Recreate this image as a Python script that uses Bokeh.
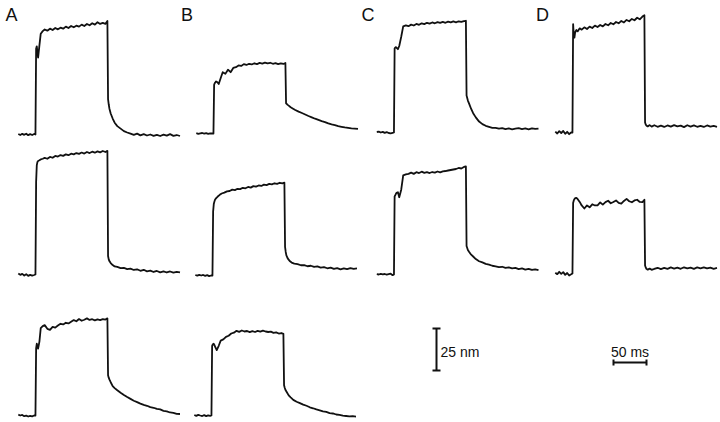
from bokeh.plotting import figure
from bokeh.models import Range1d, Label
from bokeh.embed import file_html
from bokeh.resources import INLINE

# ---------------- data (time in ms, displacement in nm above each baseline) -------------
TIME_MS = [0, 3, 6, 9, 12, 15, 18, 21, 24,
           26, 27, 28, 29, 30, 32, 34, 37, 40,
           44, 48, 52, 56, 60, 64, 68, 72, 76, 80, 84, 88, 92, 96, 100, 104, 108, 112,
           116, 120, 124, 128, 132,
           135, 136, 137, 138, 140, 143, 146,
           150, 155, 160, 165, 170, 175, 180, 185, 190, 195, 200, 205, 210, 215, 220,
           225, 230, 235, 240, 245]

A1 = [0.3, -0.3, 0.4, -0.2, 0.5, -0.4, 0.2, -0.3, 0.3,
      0.0, 51, 52.5, 49, 45.8, 53, 60, 61.5, 62.5, 61.8, 63, 62.2, 63.4, 62.6, 63.6, 63,
      64.2, 63.4, 64.6, 63.8, 64.8, 64.2, 65.4, 64.6, 65.8, 65, 66.2, 65.4, 66.8, 65.8,
      66.4, 65.8, 67.6,
      21, 18, 15.5, 12.5, 9.5, 7, 5, 3.5, 2, 1.2, 0.5, -0.2, 0.5, -0.5, 0.2, -0.6, 0,
      -0.8, -0.2, -0.9, -0.1, -0.7, 0.2, -0.8, -0.3, -0.9]

B1 = [0.2, -0.2, 0.1, 0.3, -0.1, 0.2, -0.2, 0.1, 0,
      0, 29, 30, 30.5, 31, 30.5, 29.5, 33, 36.5, 35.5, 38, 36.5, 39, 39.5, 40.5, 40.2,
      41.3, 40.8, 41.5, 41.1, 41.8, 41.3, 42, 41.6, 42.2, 41.7, 42.1, 41.5, 41.9, 41.3,
      41.8, 41.4, 42,
      18, 17.6, 17.2, 16.6, 15.6, 14.9, 14, 13, 12.2, 11.3, 10.4, 9.6, 8.8, 8.1, 7.4,
      6.8, 6, 5.4, 5, 4.4, 4, 3.6, 3.3, 3, 2.9, 2.7]

C1 = [0.3, 0.5, 0, 0.4, -0.2, 0.2, -0.3, -0.5, -0.2,
      0, 50, 50.6, 50.8, 50.4, 49.6, 51.5, 57, 63.2, 63.8, 63.3, 64.2, 63.7, 64.6, 64.1,
      65, 64.5, 65.3, 64.8, 65.5, 65, 65.7, 65.2, 65.8, 65.3, 66, 65.5, 66.1, 65.6, 66.2,
      65.8, 66.3, 66.5,
      22, 20.5, 19, 17, 14, 11.5, 9, 6.5, 5, 4, 3.4, 2.8, 2.8, 2.3, 2.6, 2, 2.4, 1.9,
      2.3, 2.6, 2, 2.4, 1.9, 2.5, 2.1, 2.3]

D1 = [0.5, -0.6, 0.8, -0.3, 0.9, -0.8, 0.4, -1, 0,
      0, 64.5, 58, 56.5, 59.5, 61, 60.2, 62, 61.2, 62.6, 61.6, 63, 62.2, 63.6, 62.8, 64,
      63.2, 64.6, 63.8, 65.2, 64.4, 65.8, 65, 66.4, 65.5, 67, 66.2, 67.6, 66.8, 68.3,
      67.4, 69, 69.8,
      6, 4.8, 4.2, 3.6, 4.4, 3.5, 4.3, 3.4, 4.1, 3.3, 4.2, 3.5, 4.4, 3.6, 4.1, 3.2, 4.3,
      3.5, 4.2, 3.4, 4, 3.3, 4.2, 3.5, 4, 3.4]

A2 = [0.6, -0.2, 0.4, -0.6, 0.2, -0.8, -0.2, -0.7, -0.3,
      0, 55, 65, 67, 67.6, 68, 68.5, 68.9, 69.4, 68.9, 70, 69.5, 70.6, 70.2, 71.1, 70.6,
      71.5, 71, 71.9, 71.5, 72.3, 71.8, 72.6, 72, 72.9, 72.3, 73.1, 72.5, 73.3, 72.7,
      73.5, 72.9, 73.6,
      11, 9, 8, 6.8, 5.6, 4.8, 4.5, 3.8, 3.9, 3.2, 3.5, 2.7, 3.1, 2.2, 2.8, 1.9, 2.3,
      1.5, 2.1, 1.3, 1.9, 1.2, 1.8, 1.1, 1.6, 1.3]

B2 = [0.3, -0.1, 0.4, 0, 0.3, -0.2, 0.2, -0.4, 0,
      0, 38, 42.5, 44, 45.2, 46.2, 47, 48, 48.8, 49.3, 50.1, 50.3, 51.1, 50.8, 51.6, 51.4,
      52.2, 51.9, 52.7, 52.3, 53.2, 52.9, 53.6, 53.3, 54.1, 53.8, 54.5, 54.2, 54.9, 54.5,
      55.2, 54.8, 55.3,
      17, 14, 12, 10.2, 8.6, 7.7, 7.1, 6.8, 6.1, 6.2, 5.5, 5.8, 5.1, 5.4, 4.7, 5, 4.3,
      4.7, 3.9, 4.4, 3.7, 4.3, 3.8, 4.4, 3.9, 4.2]

C2 = [0.2, 0, 0.4, 0.1, 0.3, -0.1, 0.2, 0.5, -0.4,
      0, 46.5, 47.2, 48, 48.6, 49, 46, 50.5, 59, 59.6, 59.9, 60.6, 59.9, 60.9, 60.4, 61.2,
      60.5, 60.9, 60.4, 61, 60.6, 61.3, 60.8, 61.4, 61.6, 61.9, 62.2, 62.5, 62.8, 63.4,
      63.1, 64, 64.3,
      17, 15.8, 14.6, 13.4, 11.8, 10.7, 9.2, 7.9, 7.2, 6.3, 5.9, 5.2, 4.9, 4.4, 4.6, 3.9,
      4.2, 3.6, 3.9, 3.2, 3.6, 2.9, 3.4, 2.7, 3.1, 2.6]

D2 = [0.5, -0.4, 1, -0.2, 0.8, -0.8, 0.3, -1.2, -0.5,
      0, 42, 43.5, 44.3, 44.8, 45, 44.2, 42.6, 40.5, 38.7, 40.5, 39.4, 41.2, 40.5, 40.6,
      42.3, 41, 42.5, 43.3, 41.8, 42.6, 43.5, 42, 41.6, 43.2, 44.4, 43, 42.4, 43.5, 43.9,
      42.6, 42.5, 43.9,
      4.8, 3.6, 2.8, 2.3, 2.9, 2.2, 2.7, 3.4, 2.6, 3.3, 2.8, 3.6, 2.9, 3.5, 2.8, 3.7, 3,
      3.5, 2.8, 3.6, 3.1, 3.7, 3, 3.5, 2.8, 3.3]

A3 = [0.5, 0, 0.3, -0.4, -0.1, -0.6, -0.2, -0.5, 0,
      0, 40, 42.7, 41, 39.8, 44, 52, 53.2, 53.8, 51.6, 51, 52.8, 52.3, 53.6, 54.6, 54.2,
      55.2, 54.8, 55.8, 56.8, 56.1, 57.4, 56.4, 57, 57.8, 56.9, 57.3, 56.6, 57.2, 56.8,
      57.4, 57.1, 57.8,
      24, 22.5, 21.5, 19.8, 17.5, 16.3, 15, 13.5, 12.2, 11, 9.9, 8.8, 8, 7.1, 6.3, 5.8,
      5, 4.6, 3.9, 3.6, 2.8, 2.5, 1.8, 1.6, 1, 0.9]

B3 = [0.3, -0.2, 0.4, 0, -0.3, 0.2, -0.4, 0.1, -0.2,
      0, 41.5, 42.3, 42.7, 42.4, 40.6, 38.9, 41.5, 44.6, 45.3, 46.8, 47.5, 48.8, 49.3,
      50.4, 49.8, 50.6, 50, 50.3, 49.6, 50.2, 49.7, 50.4, 49.9, 50.5, 50, 49.7, 49.9,
      49.2, 49.5, 48.8, 49.1, 48.6,
      18, 16.5, 15.3, 14, 12, 10.8, 9.3, 8.2, 7.4, 6.5, 5.8, 4.9, 4.3, 3.6, 3.1, 2.5,
      2.1, 1.4, 1.2, 0.6, 0.4, -0.1, -0.3, -0.5, -0.4, -0.7]

PANEL_LABELS = ["A", "B", "C", "D"]
SCALE_DISP_NM = 25
SCALE_TIME_MS = 50
SCALE_LABELS = ["25 nm", "50 ms"]

TRACES = {"A1": A1, "B1": B1, "C1": C1, "D1": D1,
          "A2": A2, "B2": B2, "C2": C2, "D2": D2,
          "A3": A3, "B3": B3}
for _k, _v in TRACES.items():
    assert len(_v) == len(TIME_MS), _k

# ---------------- layout (page pixels) --------------------------------------------------
PX_PER_MS = 0.66
PX_PER_NM = 1.68
W, H = 720, 422

ORIGIN_PX = {"A1": (17.8, 134), "B1": (195.8, 133), "C1": (376.3, 132), "D1": (554.8, 132),
             "A2": (17.8, 274), "B2": (194.8, 275), "C2": (376.3, 274), "D2": (554.8, 273),
             "A3": (17.8, 415), "B3": (193.8, 415)}
LABEL_X_PX = [5, 180.5, 361, 535.5]
LABEL_BASE_PX = 14.5    # compensates Bokeh's baseline placement (glyph bottom ~20)
SCALE_TEXT_BASE_PX = 351


def dx(px):
    return px / PX_PER_MS


def dy(py):
    return (H - py) / PX_PER_NM


p = figure(width=W, height=H, output_backend="svg", toolbar_location=None,
           x_range=Range1d(dx(0), dx(W)),
           y_range=Range1d(dy(H), dy(0)),
           x_axis_location=None, y_axis_location=None, min_border=0)
p.xgrid.grid_line_color = None
p.ygrid.grid_line_color = None
p.outline_line_color = None
p.background_fill_color = "white"
p.border_fill_color = "white"

INK = "#111111"

for name, vals in TRACES.items():
    ox, oy = ORIGIN_PX[name]
    xs = [dx(ox) + t for t in TIME_MS]
    ys = [dy(oy) + v for v in vals]
    p.line(xs, ys, line_color=INK, line_width=1.8, line_join="round")

# vertical scale bar (25 nm)
vx, vy0 = dx(436), dy(370)
cap_w = 4 / PX_PER_MS
p.segment(x0=[vx, vx - cap_w, vx - cap_w], y0=[vy0, vy0, vy0 + SCALE_DISP_NM],
          x1=[vx, vx + cap_w, vx + cap_w], y1=[vy0 + SCALE_DISP_NM, vy0, vy0 + SCALE_DISP_NM],
          line_color=INK, line_width=2)

# horizontal scale bar (50 ms)
hx0, hy = dx(613), dy(362)
cap_h = 3 / PX_PER_NM
p.segment(x0=[hx0, hx0, hx0 + SCALE_TIME_MS], y0=[hy, hy - cap_h, hy - cap_h],
          x1=[hx0 + SCALE_TIME_MS, hx0, hx0 + SCALE_TIME_MS], y1=[hy, hy + cap_h, hy + cap_h],
          line_color=INK, line_width=2)

FONT = "Liberation Sans"
for letter, lx in zip(PANEL_LABELS, LABEL_X_PX):
    p.add_layout(Label(x=dx(lx), y=dy(LABEL_BASE_PX), text=letter, text_font=FONT,
                       text_font_size="18px", text_color=INK,
                       text_baseline="alphabetic", text_align="left"))

p.add_layout(Label(x=dx(440), y=dy(SCALE_TEXT_BASE_PX), text=SCALE_LABELS[0], text_font=FONT,
                   text_font_size="14px", text_color=INK,
                   text_baseline="alphabetic", text_align="left"))
p.add_layout(Label(x=dx(629.5), y=dy(SCALE_TEXT_BASE_PX), text=SCALE_LABELS[1], text_font=FONT,
                   text_font_size="14px", text_color=INK,
                   text_baseline="alphabetic", text_align="center"))

open("out.html", "w").write(file_html(p, INLINE))
